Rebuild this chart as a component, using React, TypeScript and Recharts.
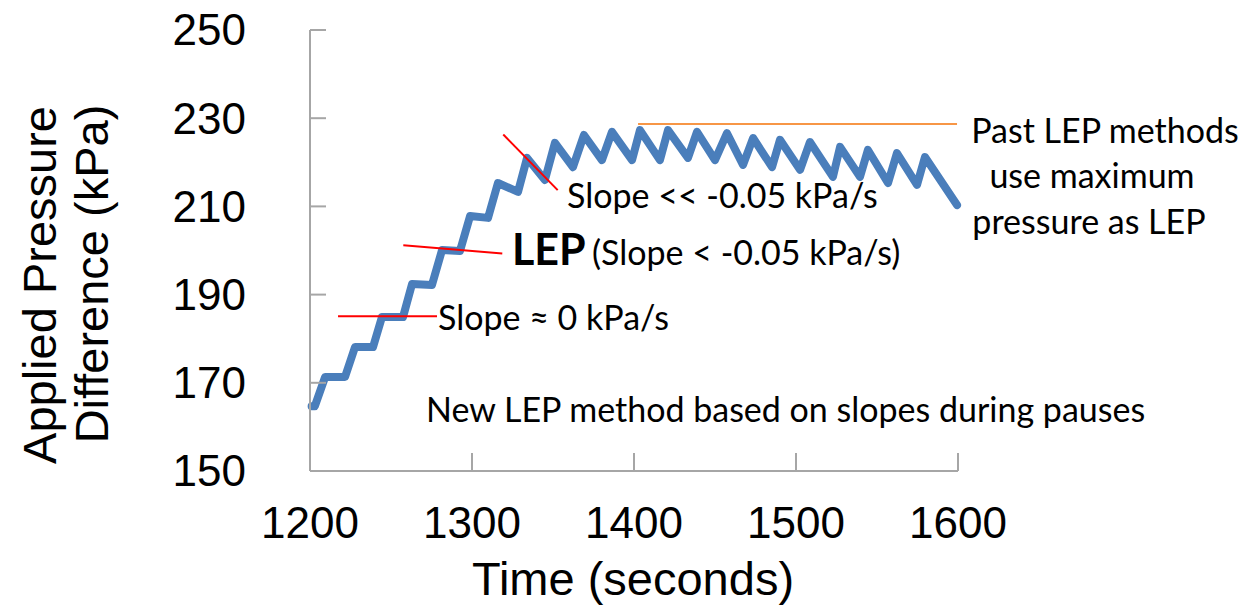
import { LineChart, Line, XAxis, YAxis, ReferenceLine } from 'recharts';

// time (s) and applied pressure difference (kPa)
const times = [1201, 1203, 1209.3, 1221.6, 1227.8, 1238.9, 1244.4, 1257.4, 1263, 1275.3, 1281.5, 1292.6, 1298.8, 1309.9, 1316, 1328.4,
  1334, 1345, 1351.2, 1362.3, 1369.1, 1380.2, 1386.4, 1398.8, 1403.7, 1416, 1421, 1433.3, 1438.9, 1450, 1457.4, 1467.3,
  1473.5, 1485.2, 1490.1, 1502.5, 1508.6, 1522.8, 1527.2, 1539.5, 1544.4, 1556.8, 1562.3, 1574.7, 1579.6, 1599.4];
const pressures = [164.7, 164.7, 171.3, 171.3, 178.1, 178.1, 184.9, 184.9, 192.4, 192.2, 200.1, 199.9, 207.8, 207.4, 215.3, 213.3,
  221, 216, 224.4, 218.9, 226.2, 220.5, 226.9, 220.5, 227.3, 220.5, 227.3, 221, 226.9, 220.5, 226.6, 219.4,
  225.5, 218.9, 225.1, 218.3, 224.6, 216.7, 223.5, 216.7, 222.8, 215.3, 222.1, 214.9, 221.2, 210.3];

const xTicks = [1200, 1300, 1400, 1500, 1600];
const yTicks = [150, 170, 190, 210, 230, 250];

// annotation segments (data coords)
const slopeZero = [{ x: 1217.3, y: 185.1 }, { x: 1278.4, y: 185.1 }];
const slopeLep = [{ x: 1257.6, y: 201.2 }, { x: 1318.7, y: 199.3 }];
const slopeSteep = [{ x: 1319.3, y: 226.3 }, { x: 1352.9, y: 213.7 }];
const maxPressure = [{ x: 1402.5, y: 228.7 }, { x: 1599.4, y: 228.7 }];

const data = times.map((t, i) => ({ t, p: pressures[i] }));

const AXIS = '#a6a6a6';
const TICK_FONT = '"Liberation Sans", Arial, sans-serif';
const NOTE_FONT = 'Lato, "Open Sans", sans-serif';

// custom ticks: tick marks point inward, labels sit outside
function YTick({ x, y, payload }: any) {
  return (
    <g>
      <line x1={x} x2={x + 16} y1={y} y2={y} stroke={AXIS} strokeWidth={2} />
      <text x={x - 64} y={y} dy="0.35em" textAnchor="end" fontFamily={TICK_FONT} fontSize={44} fill="#000">{payload.value}</text>
    </g>
  );
}

function XTick({ x, y, payload }: any) {
  return (
    <g>
      <line x1={x} x2={x} y1={y} y2={y - 18} stroke={AXIS} strokeWidth={2} />
      <text x={x} y={y + 67} textAnchor="middle" fontFamily={TICK_FONT} fontSize={44} fill="#000">{payload.value}</text>
    </g>
  );
}

export default function App() {
  return (
    <div style={{ position: 'absolute', left: 0, top: 0, width: 1257, height: 613, background: '#fff' }}>
      <LineChart width={1257} height={613} data={data} margin={{ top: 30, right: 299, bottom: 82, left: 250 }}>
        <XAxis type="number" dataKey="t" domain={[1200, 1600]} ticks={xTicks} height={60} tickSize={0} tickMargin={0}
          tickLine={false} axisLine={{ stroke: AXIS, strokeWidth: 2 }} tick={<XTick />} interval={0} />
        <YAxis type="number" domain={[150, 250]} ticks={yTicks} width={60} tickSize={0} tickMargin={0}
          tickLine={false} axisLine={{ stroke: AXIS, strokeWidth: 2 }} tick={<YTick />} interval={0} />
        <Line type="linear" dataKey="p" stroke="#4a7ebb" strokeWidth={8} strokeLinejoin="round" strokeLinecap="round"
          dot={false} isAnimationActive={false} />
        <ReferenceLine segment={slopeZero} stroke="#ff0000" strokeWidth={2} />
        <ReferenceLine segment={slopeLep} stroke="#ff0000" strokeWidth={2} />
        <ReferenceLine segment={slopeSteep} stroke="#ff0000" strokeWidth={2} />
        <ReferenceLine segment={maxPressure} stroke="#f79646" strokeWidth={2} />
      </LineChart>
      <svg width={1257} height={613} style={{ position: 'absolute', left: 0, top: 0, pointerEvents: 'none' }}>
        <text x={633} y={595} textAnchor="middle" fontFamily={TICK_FONT} fontSize={47}>Time (seconds)</text>
        <text transform="translate(56,285) rotate(-90)" textAnchor="middle" fontFamily={TICK_FONT} fontSize={47}>Applied Pressure</text>
        <text transform="translate(108,274) rotate(-90)" textAnchor="middle" fontFamily={TICK_FONT} fontSize={47}>Difference (kPa)</text>
        <g fontFamily={NOTE_FONT} fontSize={34} fill="#000">
          <text x={567} y={208}>Slope &lt;&lt; -0.05 kPa/s</text>
          <text x={512} y={265} fontSize={43} fontWeight="bold">LEP</text>
          <text x={592} y={265}>(Slope &lt; -0.05 kPa/s)</text>
          <text x={438} y={330}>Slope ≈ 0 kPa/s</text>
          <text x={426} y={422}>New LEP method based on slopes during pauses</text>
          <text x={1105} y={143} textAnchor="middle">Past LEP methods</text>
          <text x={1092} y={188} textAnchor="middle">use maximum</text>
          <text x={1089} y={234} textAnchor="middle">pressure as LEP</text>
        </g>
      </svg>
    </div>
  );
}
